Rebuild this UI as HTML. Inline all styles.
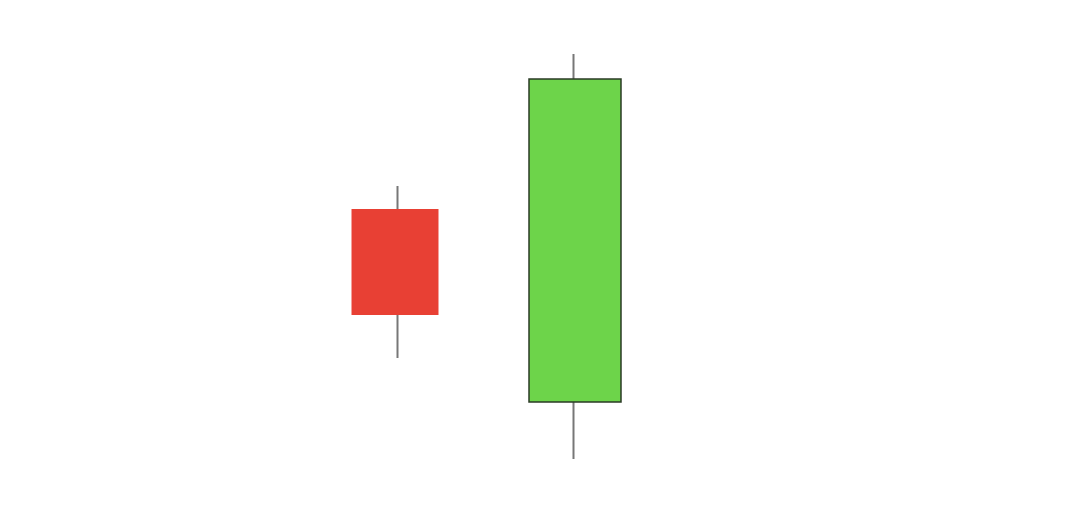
<!DOCTYPE html>
<html><head><meta charset="utf-8"><style>html,body{margin:0;padding:0;background:#fff;}svg{display:block;}</style></head>
<body>
<svg id="chart" width="1080" height="532" xmlns="http://www.w3.org/2000/svg"></svg>
<script>
const categories = ["day-1", "day-2"];
const opens = [323, 130];
const highs = [346, 478];
const lows = [174, 73];
const closes = [217, 453];

const NS = "http://www.w3.org/2000/svg";
const svg = document.getElementById("chart");
const centers = [395, 575];
const widths = [87, 92];
function y(v){ return 532 - v; }
categories.forEach((c, i) => {
  const up = closes[i] >= opens[i];
  const g = document.createElementNS(NS, "g");
  
  
  const wick = document.createElementNS(NS, "line");
  
  
  const wx = i === 0 ? 397.5 : 573.5;
  wick.setAttribute("x1", wx); wick.setAttribute("x2", wx);
  wick.setAttribute("y1", y(highs[i])); wick.setAttribute("y2", y(lows[i]));
  wick.setAttribute("stroke", "#777"); wick.setAttribute("stroke-width", "2");
  g.appendChild(wick);
  const body = document.createElementNS(NS, "rect");
  
  
  const top = y(Math.max(opens[i], closes[i])), bot = y(Math.min(opens[i], closes[i]));
  body.setAttribute("x", centers[i] - widths[i] / 2);
  body.setAttribute("y", top);
  body.setAttribute("width", widths[i]);
  body.setAttribute("height", bot - top);
  if (up) { body.setAttribute("fill", "#6dd44a"); body.setAttribute("stroke", "#2a3a25"); body.setAttribute("stroke-width", "1.5"); }
  else { body.setAttribute("fill", "#e84034"); }
  g.appendChild(body);
  svg.appendChild(g);
});
</script>
</body></html>
